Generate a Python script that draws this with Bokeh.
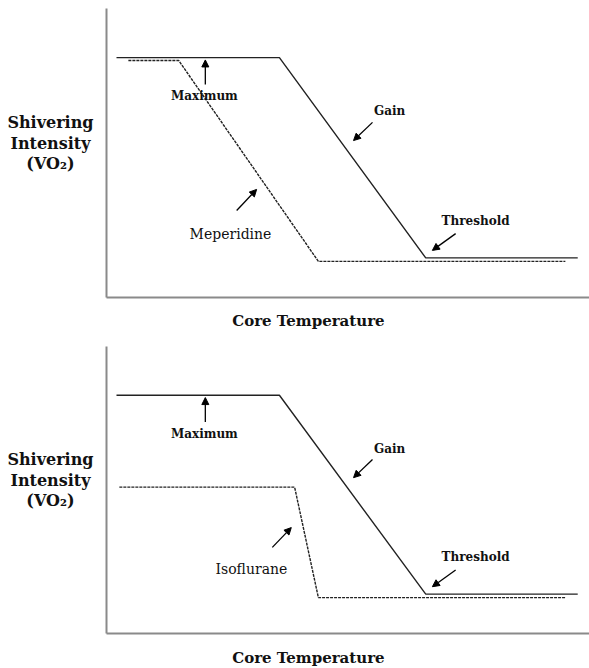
from bokeh.plotting import figure
from bokeh.layouts import column
from bokeh.models import Label, Arrow, NormalHead
from bokeh.embed import file_html
from bokeh.resources import INLINE

# ---- data (arbitrary units: core temperature vs shivering intensity) ----
normal_temp = [2.1, 36.4, 67.2, 99.2]
normal_int = [83.0, 83.0, 13.7, 13.7]

mep_temp = [4.6, 15.2, 44.6, 96.6]
mep_int = [82.0, 82.0, 12.5, 12.5]

iso_temp = [2.7, 39.6, 44.6, 96.6]
iso_int = [51.0, 51.0, 12.5, 12.5]

ylabel_lines = ["Shivering", "Intensity", "(VO\u2082)"]
xlabel_text = "Core Temperature"

SERIF = "DejaVu Serif"


def make_panel(height, y_range, xlab_y, drug_temp, drug_int, drug_name,
               drug_lbl, drug_arrow):
    p = figure(width=589, height=height, x_range=(-22.32, 101.68),
               y_range=y_range,
               output_backend="svg", toolbar_location=None,
               min_border_left=0, min_border_right=0,
               min_border_top=0, min_border_bottom=0)
    p.outline_line_color = None
    p.grid.visible = False
    for ax in (p.xaxis, p.yaxis):
        ax.fixed_location = 0
        ax.bounds = (0, 100)
        ax.axis_line_color = "#8a8a8a"
        ax.axis_line_width = 2
        ax.major_tick_line_color = None
        ax.minor_tick_line_color = None
        ax.major_label_text_font_size = "0px"
        ax.major_label_text_color = None
        ax.major_label_standoff = 0
        ax.major_tick_out = 0
        ax.major_tick_in = 0
        ax.minor_tick_out = 0
    p.xaxis.bounds = (0, 101.68)

    # normal response
    p.line(normal_temp, normal_int, line_color="#222222", line_width=1.4)
    # drug response
    p.line(drug_temp, drug_int, line_color="#222222", line_width=1.4,
           line_dash="3 1")

    def arrow(x0, y0, x1, y1):
        p.add_layout(Arrow(end=NormalHead(size=7, fill_color="black",
                                          line_color="black"),
                           x_start=x0, y_start=y0, x_end=x1, y_end=y1,
                           line_color="black", line_width=1.3))

    def label(x, y, text, size="12px", style="bold"):
        p.add_layout(Label(x=x, y=y, text=text, text_font=SERIF,
                           text_font_size=size, text_font_style=style,
                           text_align="center", text_baseline="middle",
                           text_color="#111111"))

    # Maximum
    arrow(20.8, 73.7, 20.8, 82.2)
    label(20.6, 69.6, "Maximum")
    # Gain
    label(59.6, 64.4, "Gain")
    arrow(56.0, 60.6, 52.0, 54.3)
    # Threshold
    label(77.7, 26.6, "Threshold")
    arrow(73.5, 22.1, 68.6, 16.3)
    # drug label
    label(drug_lbl[0], drug_lbl[1], drug_name, size="14px", style="normal")
    arrow(*drug_arrow)

    # axis titles
    for yv, t in zip([60.5, 53.3, 46.3], ylabel_lines):
        label(-11.8, yv, t, size="16px")
    label(42.5, xlab_y, xlabel_text, size="15px")
    return p


p1 = make_panel(330, (-11.42, 102.77), -8.0, mep_temp, mep_int, "Meperidine",
                (26.1, 21.8), (27.4, 30.1, 31.6, 37.4))
p2 = make_panel(338, (-12.2, 105.57), -8.7, iso_temp, iso_int, "Isoflurane",
                (30.5, 22.3), (34.9, 30.0, 38.9, 36.9))

layout = column(p1, p2, spacing=0)
open("out.html", "w").write(file_html(layout, INLINE))
